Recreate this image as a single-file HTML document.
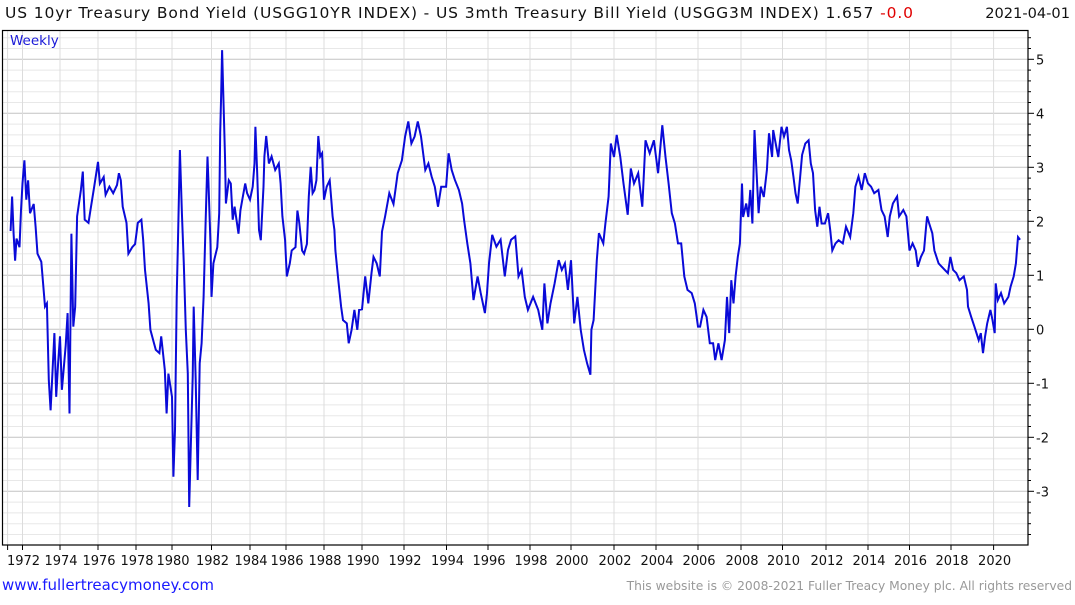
<!DOCTYPE html>
<html><head><meta charset="utf-8">
<style>
html,body{margin:0;padding:0;background:#fff;}
body{width:1075px;height:600px;overflow:hidden;font-family:"Liberation Sans","DejaVu Sans",sans-serif;}
svg text{font-family:"DejaVu Sans","Liberation Sans",sans-serif;}
</style></head>
<body>
<svg id="chart" width="1075" height="600" xmlns="http://www.w3.org/2000/svg">
<g id="grid"></g>
<g id="xaxis"></g>
<g id="yaxis"></g>
<path id="series" fill="none" stroke="#0a0ad8" stroke-width="2" stroke-linejoin="miter"></path>
<rect x="2.5" y="30.5" width="1025.5" height="514.5" fill="none" stroke="#000" stroke-width="1.2"></rect>
<text x="5" y="18" font-size="15.5" fill="#111" textLength="908" lengthAdjust="spacing">US 10yr Treasury Bond Yield (USGG10YR INDEX) - US 3mth Treasury Bill Yield (USGG3M INDEX) 1.657 <tspan fill="#e00000">-0.0</tspan></text>
<text x="1070" y="18" font-size="14.6" fill="#111" text-anchor="end">2021-04-01</text>
<text x="10" y="45" font-size="13.5" fill="#1a1ad8">Weekly</text>
<text x="2" y="590" font-size="15" fill="#1a1aff">www.fullertreacymoney.com</text>
<text x="1072" y="590" font-size="12.3" fill="#999" text-anchor="end">This website is © 2008-2021 Fuller Treacy Money plc. All rights reserved</text>
</svg>
<script>
const years = [1971.2,1971.3,1971.4,1971.5,1971.6,1971.8,1971.9,1972.0,1972.1,1972.2,1972.3,1972.4,1972.6,1972.7,1972.8,1973.0,1973.1,1973.2,1973.3,1973.4,1973.5,1973.7,1973.8,1973.9,1974.0,1974.1,1974.3,1974.4,1974.5,1974.6,1974.7,1974.8,1974.9,1975.1,1975.2,1975.3,1975.5,1975.6,1975.8,1976.0,1976.1,1976.3,1976.4,1976.6,1976.8,1977.0,1977.1,1977.2,1977.3,1977.5,1977.6,1977.8,1977.95,1978.1,1978.3,1978.4,1978.5,1978.7,1978.8,1979.0,1979.1,1979.3,1979.4,1979.6,1979.7,1979.8,1980.0,1980.07,1980.15,1980.24,1980.3,1980.4,1980.5,1980.6,1980.7,1980.8,1980.87,1980.95,1981.05,1981.1,1981.2,1981.3,1981.4,1981.5,1981.6,1981.7,1981.8,1981.85,1981.95,1982.0,1982.1,1982.3,1982.4,1982.45,1982.5,1982.55,1982.6,1982.7,1982.75,1982.9,1983.0,1983.1,1983.2,1983.4,1983.5,1983.6,1983.75,1983.85,1984.0,1984.15,1984.25,1984.3,1984.4,1984.5,1984.6,1984.75,1984.8,1984.9,1985.05,1985.2,1985.4,1985.6,1985.7,1985.8,1985.95,1986.04,1986.2,1986.3,1986.5,1986.6,1986.7,1986.85,1986.95,1987.1,1987.2,1987.3,1987.4,1987.5,1987.6,1987.7,1987.8,1987.9,1988.0,1988.14,1988.3,1988.4,1988.45,1988.55,1988.6,1988.75,1988.9,1989.0,1989.2,1989.3,1989.45,1989.6,1989.75,1989.85,
1990.0,1990.15,1990.3,1990.45,1990.55,1990.7,1990.85,1990.95,1991.1,1991.3,1991.5,1991.7,1991.9,1992.05,1992.2,1992.35,1992.5,1992.65,1992.8,1993.0,1993.15,1993.3,1993.45,1993.6,1993.75,1993.98,1994.1,1994.25,1994.4,1994.6,1994.75,1994.85,1995.0,1995.15,1995.3,1995.5,1995.65,1995.85,1995.95,1996.05,1996.2,1996.4,1996.6,1996.8,1996.95,1997.1,1997.3,1997.45,1997.6,1997.75,1997.9,1998.15,1998.4,1998.6,1998.7,1998.85,1999.0,1999.2,1999.4,1999.55,1999.7,1999.85,2000.0,2000.15,2000.3,2000.45,2000.6,2000.75,2000.9,2000.95,2001.05,2001.2,2001.3,2001.5,2001.6,2001.75,2001.85,2002.0,2002.13,2002.3,2002.45,2002.65,2002.8,2002.95,2003.15,2003.35,2003.5,2003.7,2003.9,2004.1,2004.3,2004.45,2004.6,2004.75,2004.9,2005.05,2005.2,2005.35,2005.5,2005.7,2005.85,2006.0,
2006.1,2006.25,2006.4,2006.55,2006.7,2006.8,2006.95,2007.1,2007.25,2007.35,2007.45,2007.55,2007.65,2007.75,2007.85,2007.95,2008.05,2008.1,2008.25,2008.35,2008.45,2008.55,2008.65,2008.75,2008.85,2008.95,2009.1,2009.25,2009.35,2009.5,2009.55,2009.7,2009.8,2009.95,2010.07,2010.2,2010.3,2010.4,2010.5,2010.6,2010.7,2010.8,2010.9,2011.05,2011.2,2011.3,2011.4,2011.5,2011.6,2011.7,2011.8,2011.95,2012.1,2012.2,2012.3,2012.45,2012.6,2012.8,2012.95,2013.15,2013.3,2013.4,2013.55,2013.7,2013.85,2014.0,2014.15,2014.3,2014.5,2014.65,2014.8,2014.95,2015.05,2015.2,2015.4,2015.5,2015.7,2015.85,2016.0,2016.15,2016.3,2016.4,2016.55,2016.7,2016.8,2016.85,2016.95,2017.1,2017.2,2017.4,2017.55,2017.7,2017.85,2017.97,2018.1,2018.25,2018.4,2018.6,2018.75,2018.8,2018.95,2019.1,2019.3,2019.4,2019.5,2019.6,2019.7,2019.85,2019.95,2020.05,2020.1,2020.2,2020.35,2020.5,2020.7,2020.8,2020.95,2021.05,2021.15,2021.25];
const spread = [1.82,2.46,1.77,1.27,1.68,1.52,2.2,2.7,3.13,2.4,2.76,2.15,2.32,1.9,1.4,1.25,0.85,0.42,0.48,-0.94,-1.5,-0.07,-1.25,-0.63,-0.13,-1.12,-0.3,0.3,-1.56,1.77,0.05,0.42,2.09,2.58,2.92,2.03,1.97,2.2,2.64,3.1,2.7,2.82,2.49,2.64,2.52,2.67,2.89,2.76,2.27,1.97,1.4,1.52,1.58,1.97,2.03,1.65,1.1,0.48,-0.01,-0.26,-0.38,-0.44,-0.13,-0.75,-1.56,-0.82,-1.25,-2.73,-1.86,0.6,1.58,3.32,2.15,1.22,-0.01,-0.82,-3.29,-2.17,-0.88,0.42,-0.94,-2.79,-0.63,-0.26,0.6,1.97,3.2,2.7,1.58,0.6,1.22,1.52,2.15,3.64,4.3,5.17,4.55,3.2,2.33,2.76,2.7,2.03,2.27,1.77,2.2,2.4,2.7,2.52,2.4,2.64,3.07,3.75,2.89,1.84,1.65,2.64,3.2,3.58,3.07,3.2,2.95,3.07,2.7,2.09,1.65,0.98,1.22,1.46,1.52,2.2,1.97,1.46,1.4,1.58,2.46,3.01,2.52,2.58,2.76,3.58,3.2,3.26,2.4,2.64,2.76,2.33,2.09,1.84,1.46,0.91,0.42,0.17,0.11,-0.26,-0.01,0.36,-0.01,0.36,
0.37,0.98,0.48,1.04,1.34,1.22,0.98,1.81,2.09,2.52,2.32,2.89,3.13,3.57,3.85,3.44,3.57,3.85,3.57,2.95,3.07,2.83,2.64,2.27,2.64,2.64,3.26,2.95,2.77,2.58,2.33,2.02,1.59,1.22,0.54,0.98,0.67,0.30,0.67,1.22,1.75,1.53,1.66,0.98,1.47,1.66,1.72,0.98,1.10,0.60,0.36,0.60,0.36,-0.01,0.85,0.11,0.48,0.85,1.28,1.10,1.22,0.73,1.28,0.11,0.60,-0.01,-0.38,-0.63,-0.84,-0.01,0.17,1.28,1.78,1.59,1.96,2.46,3.44,3.19,3.60,3.19,2.70,2.12,2.98,2.70,2.89,2.27,3.50,3.26,3.50,2.89,3.78,3.19,2.70,2.15,1.96,1.59,1.59,0.98,0.73,0.67,0.48,0.05,
0.05,0.36,0.23,-0.26,-0.26,-0.57,-0.26,-0.57,-0.20,0.60,-0.07,0.91,0.48,0.98,1.34,1.59,2.70,2.08,2.33,2.08,2.58,1.96,3.69,2.89,2.15,2.64,2.45,2.95,3.63,3.19,3.69,3.38,3.19,3.75,3.57,3.75,3.32,3.13,2.83,2.52,2.33,2.77,3.23,3.44,3.50,3.07,2.89,2.21,1.90,2.27,1.96,1.96,2.15,1.84,1.46,1.59,1.65,1.59,1.90,1.71,2.15,2.64,2.83,2.58,2.89,2.70,2.64,2.52,2.58,2.21,2.09,1.71,2.09,2.33,2.46,2.09,2.21,2.09,1.46,1.59,1.46,1.16,1.34,1.46,1.90,2.09,1.96,1.78,1.46,1.22,1.16,1.10,1.04,1.34,1.10,1.04,0.91,0.98,0.73,0.42,0.23,0.05,-0.20,-0.07,-0.44,-0.13,0.11,0.36,0.17,-0.07,0.85,0.54,0.67,0.48,0.60,0.79,0.98,1.22,1.71,1.66];
const tickYears = [1972,1974,1976,1978,1980,1982,1984,1986,1988,1990,1992,1994,1996,1998,2000,2002,2004,2006,2008,2010,2012,2014,2016,2018,2020];
const yTicks = [-3,-2,-1,0,1,2,3,4,5];

// axis calibration (pixel positions of year ticks on the time axis)
const axisYears = [1971,1972,1974,1976,1978,1980,1982,1984,1986,1988,1990,1992,1994,1996,1998,2000,2002,2004,2006,2008,2010,2012,2014,2016,2018,2020,2022];
const axisPx   = [7.6,22.5,60,98,136,172,211.5,250,286,324,362,404,446.5,488,530,571,614,656,698,741,782.5,826,868,909.5,951,993.6,1036];
function xScale(t){
  for(let i=0;i<axisYears.length-1;i++){
    if(t<=axisYears[i+1]||i===axisYears.length-2){
      const f=(t-axisYears[i])/(axisYears[i+1]-axisYears[i]);
      return axisPx[i]+f*(axisPx[i+1]-axisPx[i]);
    }
  }
}
function yScale(v){return 329.3-v*54;}

const NS='http://www.w3.org/2000/svg';
const grid=document.getElementById('grid');
const xaxis=document.getElementById('xaxis');
const yaxis=document.getElementById('yaxis');
function mk(tag,attrs,parent){const e=document.createElementNS(NS,tag);for(const k in attrs)e.setAttribute(k,attrs[k]);parent.appendChild(e);return e;}

for(let k=-19;k<=27;k++){
  const v=k/5;const y=yScale(v);
  if(y<31||y>544)continue;
  const major=(k%5===0);
  const ln=mk('line',{x1:3,x2:1028,y1:y,y2:y,stroke:major?'#c4c4c4':'#e8e8e8','stroke-width':1},grid);
  
  
  const tk=mk('line',{x1:1028,x2:major?1034:1031,y1:y,y2:y,stroke:'#000','stroke-width':1},yaxis);
  
  
}
const vlines=[1971].concat(tickYears);
vlines.forEach(yr=>{
  const x=xScale(yr);
  const ln=mk('line',{x1:x,x2:x,y1:31,y2:545,stroke:'#dcdcdc','stroke-width':1},grid);
  
  
  const tk=mk('line',{x1:x,x2:x,y1:545,y2:550,stroke:'#000','stroke-width':1},xaxis);
  
  
});
tickYears.forEach(yr=>{
  const t=mk('text',{x:xScale(yr)+1,y:565,'font-size':13,fill:'#111','text-anchor':'middle'},xaxis);
  
  
  t.textContent=yr;
});
yTicks.forEach(v=>{
  const t=mk('text',{x:1036,y:yScale(v)+5,'font-size':13,fill:'#111'},yaxis);
  
  
  t.textContent=(v<0?'-':'')+Math.abs(v);
});
let d='';
years.forEach((t,i)=>{d+=(i?'L':'M')+xScale(t).toFixed(1)+','+yScale(spread[i]).toFixed(1);});
document.getElementById('series').setAttribute('d',d);
</script>
</body></html>
